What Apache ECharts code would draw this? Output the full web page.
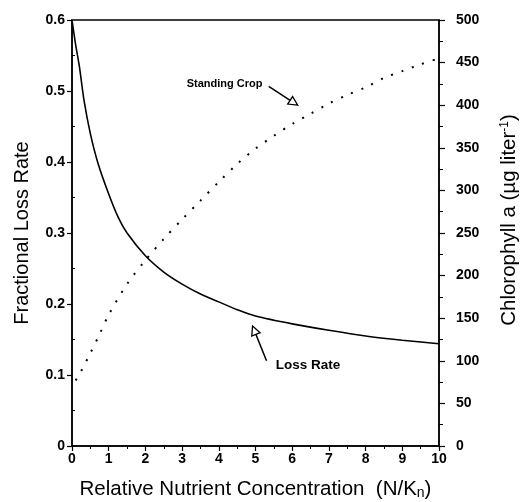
<!DOCTYPE html>
<html>
<head>
<meta charset="utf-8">
<script src="https://cdn.jsdelivr.net/npm/echarts@6/dist/echarts.min.js"></script>
<style>
  html, body { margin: 0; padding: 0; background: #fff; }
  #chart { width: 521px; height: 502px; }
</style>
</head>
<body>
<div id="chart"></div>
<script>
// values
const lossX = [0, 0.1, 0.2, 0.33, 0.5, 0.71, 1, 1.26, 1.5, 2, 2.5, 3, 3.5, 4, 4.5, 5, 6, 7, 8, 9, 10]
const lossRate = [0.6, 0.565, 0.535, 0.486, 0.44, 0.398, 0.355, 0.322, 0.3, 0.268, 0.245, 0.228, 0.214, 0.203, 0.192, 0.183, 0.172, 0.163, 0.155, 0.149, 0.144]
const cropX = [0.1, 0.25, 0.5, 0.75, 1, 1.5, 2, 2.5, 3, 3.5, 4, 4.5, 5, 5.5, 6, 6.5, 7, 7.5, 8, 8.5, 9, 9.5, 10]
const standingCrop = [77, 88, 109, 131, 154, 190, 218, 243, 266, 288, 310, 331, 349, 364, 378, 390, 402, 412, 421, 432, 440, 448, 455]

// annotation anchors in data units
const cropNote = { text: 'Standing Crop', size: 11, at: [5.19, 425], tail: [5.36, 422], tip: [6.15, 400] }
const lossNote = { text: 'Loss Rate', size: 13.5, at: [5.55, 0.114], tail: [5.3, 0.12], tip: [4.92, 0.169] }

const font = '"Liberation Sans", Arial, Helvetica, sans-serif'
const ink = '#000'

const chart = echarts.init(document.getElementById('chart'))

const tickLabel = { color: ink, fontFamily: font, fontWeight: 'bold', fontSize: 14 }

chart.setOption({
  animation: false,
  grid: {
    left: 72, right: 82, top: 20, bottom: 56,
    outerBoundsMode: 'none',
    show: true, borderColor: ink, borderWidth: 1.5
  },
  xAxis: {
    type: 'value',
    min: 0,
    max: 10,
    interval: 1,
    name: 'Relative Nutrient Concentration  (N/K{sub|n})',
    nameLocation: 'middle',
    nameGap: 33,
    nameTextStyle: {
      color: ink, fontFamily: font, fontSize: 20.5,
      rich: { sub: { fontFamily: font, fontSize: 14, color: ink, verticalAlign: 'bottom', padding: [7, 0, 0, 0] } }
    },
    axisLine: { lineStyle: { color: ink, width: 1.5 } },
    axisTick: { length: 5, lineStyle: { color: ink, width: 1.2 } },
    minorTick: { show: true, splitNumber: 2, length: 3, lineStyle: { color: ink } },
    splitLine: { show: false },
    axisLabel: Object.assign({ margin: 6 }, tickLabel)
  },
  yAxis: [
    {
      type: 'value',
      min: 0,
      max: 0.6,
      interval: 0.1,
      name: 'Fractional Loss Rate',
      nameLocation: 'middle',
      nameRotate: 90,
      nameGap: 40,
      nameTextStyle: { color: ink, fontFamily: font, fontSize: 20 },
      axisLine: { show: true, lineStyle: { color: ink, width: 1.5 } },
      axisTick: { length: 5, lineStyle: { color: ink, width: 1.2 } },
      minorTick: { show: true, splitNumber: 2, length: -3, lineStyle: { color: ink } },
      splitLine: { show: false },
      axisLabel: Object.assign({ margin: 7, formatter: v => (v === 0 ? '0' : v.toFixed(1)) }, tickLabel)
    },
    {
      type: 'value',
      position: 'right',
      min: 0,
      max: 500,
      interval: 50,
      name: 'Chlorophyll a (µg liter{sup|-1})',
      nameLocation: 'middle',
      nameRotate: 90,
      nameGap: 60,
      nameTextStyle: {
        color: ink, fontFamily: font, fontSize: 20.5,
        padding: [0, 0, 0, 26],
        rich: { sup: { fontFamily: font, fontSize: 12, color: ink, verticalAlign: 'top', padding: [0, 0, 9, 0] } }
      },
      axisLine: { show: true, lineStyle: { color: ink, width: 1.5 } },
      axisTick: { length: 6, lineStyle: { color: ink, width: 1.2 } },
      minorTick: { show: true, splitNumber: 2, length: 4, lineStyle: { color: ink } },
      splitLine: { show: false },
      axisLabel: Object.assign({ margin: 17 }, tickLabel)
    }
  ],
  series: [
    {
      name: 'Loss Rate',
      type: 'line',
      yAxisIndex: 0,
      smooth: 0.3,
      symbol: 'none',
      data: lossX.map((x, i) => [x, lossRate[i]]),
      lineStyle: { color: ink, width: 1.6 }
    },
    {
      name: 'Standing Crop',
      type: 'line',
      yAxisIndex: 1,
      smooth: 0.3,
      symbol: 'none',
      data: cropX.map((x, i) => [x, standingCrop[i]]),
      lineStyle: { color: ink, width: 2, type: [2, 9] }
    }
  ]
})

// arrows and labels, placed through the axes
const arrow = (seriesIndex, note) => {
  const a = chart.convertToPixel({ seriesIndex }, note.tail)
  const b = chart.convertToPixel({ seriesIndex }, note.tip)
  const dx = b[0] - a[0], dy = b[1] - a[1]
  const len = Math.hypot(dx, dy)
  const ux = dx / len, uy = dy / len
  const head = 9, half = 4.5
  const base = [b[0] - ux * head, b[1] - uy * head]
  return [
    { type: 'line', shape: { x1: a[0], y1: a[1], x2: base[0], y2: base[1] }, style: { stroke: ink, lineWidth: 1.5 } },
    {
      type: 'polygon',
      shape: { points: [b, [base[0] - uy * half, base[1] + ux * half], [base[0] + uy * half, base[1] - ux * half]] },
      style: { fill: '#fff', stroke: ink, lineWidth: 1.3 }
    }
  ]
}

const label = (seriesIndex, note, align) => {
  const p = chart.convertToPixel({ seriesIndex }, note.at)
  return {
    type: 'text',
    x: p[0], y: p[1],
    style: { text: note.text, fill: ink, font: 'bold ' + note.size + 'px ' + font, textAlign: align, textVerticalAlign: 'middle' }
  }
}

chart.setOption({
  graphic: [
    ...arrow(1, cropNote), label(1, cropNote, 'right'),
    ...arrow(0, lossNote), label(0, lossNote, 'left')
  ]
})
</script>
</body>
</html>
